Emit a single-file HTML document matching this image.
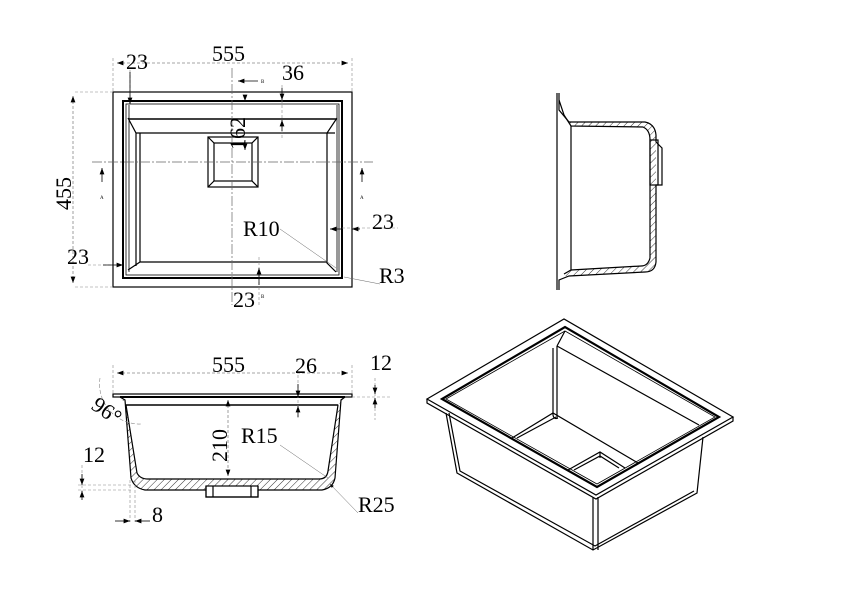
<!DOCTYPE html>
<html><head><meta charset="utf-8"><style>
html,body{margin:0;padding:0;background:#fff}
svg{display:block}
text{font-family:"Liberation Serif",serif;fill:#000}
</style></head><body>
<svg width="843" height="596" viewBox="0 0 843 596" xmlns="http://www.w3.org/2000/svg">
<defs>
<pattern id="h" width="5" height="5" patternUnits="userSpaceOnUse" patternTransform="rotate(45)">
<line x1="0" y1="0" x2="0" y2="5" stroke="#000" stroke-width="0.8"/></pattern>
<marker id="a" markerWidth="8" markerHeight="6" refX="8" refY="3" orient="auto-start-reverse"><path d="M0,0 L8,3 L0,6z" fill="#000"/></marker>
</defs>
<g fill="none" stroke="#000" stroke-width="1.2">
<!-- PLAN VIEW -->
<rect x="113" y="92" width="239" height="195"/>
<rect x="123" y="101" width="219" height="177" stroke-width="2"/>
<rect x="126" y="104" width="213" height="171" stroke-width="0.8"/>
<line x1="129" y1="119" x2="336" y2="119" stroke-width="1.6"/>
<path d="M128,118 L136,133 L335,133 M337,118 L327,133 L327,263 L336,272 M128,270 L140,262 L327,262 M140,133 L140,262 M136,133 L136,266"/>
<path d="M129,105 L129,272 M337,105 L337,272" stroke-width="0.8"/>
<rect x="208" y="137" width="50" height="50"/>
<rect x="214" y="143" width="38" height="38"/>
<path d="M208,137 L214,143 M258,137 L252,143 M208,187 L214,181 M258,187 L252,181"/>
<g stroke="#666" stroke-width="0.7" stroke-dasharray="10,2,2,2">
<line x1="232" y1="68" x2="232" y2="305"/>
<line x1="92" y1="162" x2="373" y2="162"/>
</g>
<g stroke="#888" stroke-width="0.6" stroke-dasharray="3,2">
<line x1="113" y1="58" x2="113" y2="92"/><line x1="352" y1="58" x2="352" y2="92"/>
<line x1="75" y1="92" x2="113" y2="92"/><line x1="75" y1="287" x2="113" y2="287"/>
<line x1="130" y1="70" x2="130" y2="101"/>
<line x1="282" y1="85" x2="282" y2="140"/>
<line x1="342" y1="228" x2="398" y2="228"/>
<line x1="88" y1="265" x2="123" y2="265"/>
<line x1="259" y1="257" x2="259" y2="305"/>
</g>
<g stroke="#000" stroke-width="0.8">
<line x1="117" y1="63" x2="348" y2="63" marker-start="url(#a)" marker-end="url(#a)" stroke="#888" stroke-dasharray="3,2"/>
<line x1="73" y1="96" x2="73" y2="283" marker-start="url(#a)" marker-end="url(#a)" stroke="#888" stroke-dasharray="3,2"/>
<line x1="130" y1="72" x2="130" y2="104" marker-end="url(#a)"/>
<line x1="282" y1="88" x2="282" y2="100" marker-end="url(#a)"/>
<line x1="282" y1="131" x2="282" y2="120" marker-end="url(#a)"/>
<line x1="245" y1="95" x2="245" y2="101" marker-end="url(#a)"/>
<line x1="245" y1="140" x2="245" y2="150" marker-end="url(#a)"/>
<line x1="330" y1="229" x2="342" y2="229" marker-start="url(#a)"/>
<line x1="360" y1="229" x2="352" y2="229" marker-end="url(#a)"/>
<line x1="103" y1="265" x2="123" y2="265" marker-end="url(#a)"/>
<line x1="259" y1="285" x2="259" y2="268" marker-end="url(#a)"/>
<line x1="258" y1="81" x2="238" y2="81" marker-end="url(#a)"/>
<line x1="102" y1="182" x2="102" y2="168" marker-end="url(#a)"/>
<line x1="362" y1="182" x2="362" y2="168" marker-end="url(#a)"/>
<line x1="280" y1="229" x2="336" y2="268" stroke="#666" stroke-width="0.5"/>
<line x1="344" y1="277" x2="380" y2="284" stroke="#666" stroke-width="0.5"/>
</g>
<!-- SIDE VIEW -->
<path d="M557,93 L557,290"/>
<path d="M559,93 L559,110 L569,122 L645,122 Q655,124 656,135 L656,142 L662,148 L662,185 L656,185 L656,262 Q655,272 645,272 L569,276 L559,280 L559,290" />
<path d="M559,100 L564,115 L571,126 L643,127 Q650,130 650,140 L650,258 Q648,266 641,266 L571,270 L564,274" />
<path d="M565,115 L569,122 L645,122 Q655,124 656,135 L656,262 Q655,272 645,272 L569,276 L565,276 L571,270 L641,266 Q648,266 650,258 L650,140 Q650,130 643,127 L571,126z" fill="url(#h)" stroke="none"/>
<rect x="650" y="140" width="8" height="45"/>
<line x1="571" y1="126" x2="571" y2="270"/>
<!-- FRONT SECTION -->
<rect x="113" y="394" width="239" height="3"/>
<line x1="120" y1="397" x2="345" y2="397" stroke-width="2"/>
<line x1="126" y1="405" x2="338" y2="405" stroke-width="1.5"/>
<path d="M120,397 L125,400 L131,478 Q134,488 145,490 L322,490 Q333,488 335,478 L341,400 L345,397" />
<path d="M126,405 L137,473 Q140,479 148,479 L319,479 Q327,479 328,471 L338,405" />
<path d="M120,397 L125,400 L131,478 Q134,488 145,490 L322,490 Q333,488 335,478 L341,400 L345,397 L338,405 L328,471 Q327,479 319,479 L148,479 Q140,479 137,473 L126,405z" fill="url(#h)" stroke="none"/>
<rect x="206" y="486" width="52" height="11" fill="#fff"/>
<path d="M206,486 L206,497 L258,497 L258,486 M213,486 L213,497 M251,486 L251,497"/>
<g stroke="#888" stroke-width="0.6" stroke-dasharray="3,2">
<line x1="113" y1="365" x2="113" y2="394"/><line x1="352" y1="365" x2="352" y2="394"/>
<line x1="298" y1="375" x2="298" y2="420"/>
<line x1="352" y1="397" x2="390" y2="397"/><line x1="375" y1="378" x2="375" y2="420"/>
<line x1="78" y1="485" x2="131" y2="485"/><line x1="78" y1="490" x2="131" y2="490"/>
<line x1="82" y1="465" x2="82" y2="495"/>
<line x1="130" y1="480" x2="130" y2="522"/><line x1="135" y1="480" x2="135" y2="522"/>
<path d="M100,378 A40,40 0 0 0 141,424" stroke-dasharray="4,2"/>
</g>
<g stroke="#000" stroke-width="0.8">
<line x1="117" y1="373" x2="348" y2="373" marker-start="url(#a)" marker-end="url(#a)" stroke="#888" stroke-dasharray="3,2"/>
<line x1="228" y1="400" x2="228" y2="476" marker-start="url(#a)" marker-end="url(#a)" stroke="#888" stroke-dasharray="3,2"/>
<line x1="298" y1="384" x2="298" y2="397" marker-end="url(#a)"/>
<line x1="298" y1="417" x2="298" y2="406" marker-end="url(#a)"/>
<line x1="375" y1="385" x2="375" y2="394" marker-end="url(#a)"/>
<line x1="375" y1="408" x2="375" y2="398" marker-end="url(#a)"/>
<line x1="82" y1="474" x2="82" y2="485" marker-end="url(#a)"/>
<line x1="82" y1="500" x2="82" y2="491" marker-end="url(#a)"/>
<line x1="115" y1="521" x2="130" y2="521" marker-end="url(#a)"/>
<line x1="150" y1="521" x2="135" y2="521" marker-end="url(#a)"/>
<line x1="280" y1="445" x2="328" y2="478" stroke="#666" stroke-width="0.5"/>
<line x1="330" y1="484" x2="358" y2="513" stroke="#666" stroke-width="0.5" marker-start="url(#a)"/>
</g>
<!-- ISO VIEW -->
<path d="M427,399 L564,319 L733,417 L596,495 Z"/>
<path d="M427,399 L427,403 L596,499 L733,421 L733,417"/>
<path d="M442,399 L565,327 L719,417 L597,487 Z" stroke-width="2.2"/>
<path d="M446,399 L565,331 L715,417 L597,484 Z" stroke-width="0.8"/>
<path d="M446,413 L457,473 L593,550 L697,493 L703,437"/>
<path d="M449,413 L460,471 L595,546 L694,491"/>
<path d="M593,497 L593,550 M598,497 L598,550"/>
<path d="M553,348 L553,415 Q554,420 558,418 M557,346 L557,418"/>
<path d="M557,346 L565,331 M557,346 L699,425"/>
<path d="M512,438 L553,413 L638,463 M517,438 L556,417"/>
<path d="M568,470 L600,452 L625,468 M574,470 L600,456 L619,468 M600,452 L600,458"/>
</g>
<!-- TEXT -->
<g font-size="22">
<text x="212" y="61">555</text>
<text x="126" y="69">23</text>
<text x="282" y="80">36</text>
<text x="243" y="236">R10</text>
<text x="372" y="229">23</text>
<text x="67" y="264">23</text>
<text x="379" y="283">R3</text>
<text x="233" y="307">23</text>
<text transform="translate(71,210) rotate(-90)">455</text>
<text transform="translate(245,150) rotate(-90)">162</text>
<text x="212" y="372">555</text>
<text x="295" y="373">26</text>
<text x="370" y="370">12</text>
<text x="83" y="462">12</text>
<text x="152" y="522">8</text>
<text x="241" y="443">R15</text>
<text x="358" y="512">R25</text>
<text transform="translate(227,462) rotate(-90)">210</text>
<text transform="translate(90,408) rotate(35)">96°</text>
</g>
<g font-size="5" font-family="Liberation Sans">
<text x="261" y="83">B</text><text x="261" y="298">B</text>
<text x="100" y="199">A</text><text x="360" y="199">A</text>
</g>
</svg>
</body></html>
